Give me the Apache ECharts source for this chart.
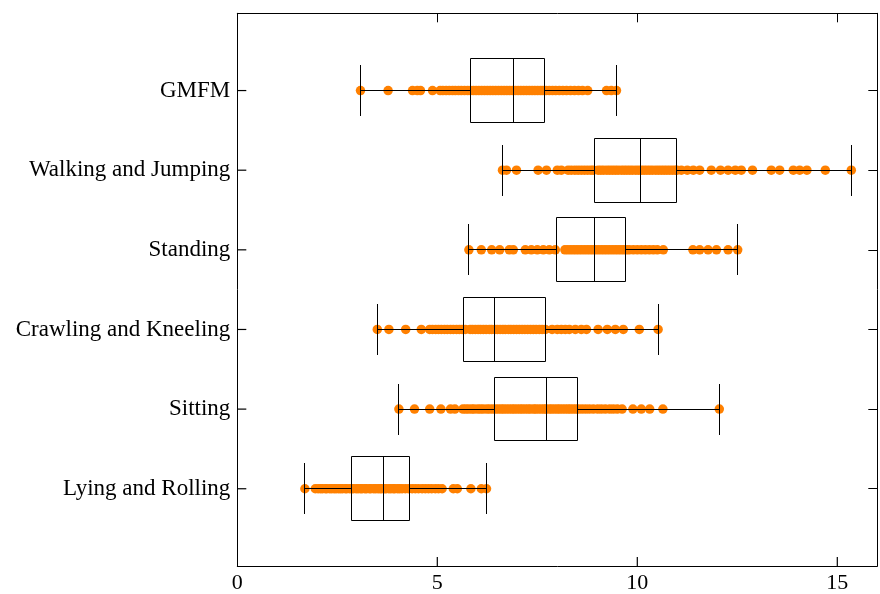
<!DOCTYPE html>
<html>
<head>
<meta charset="utf-8">
<script src="https://cdn.jsdelivr.net/npm/echarts@6/dist/echarts.min.js"></script>
<style>html,body{margin:0;padding:0;background:#fff;}#c{width:880px;height:594px;}</style>
</head>
<body>
<div id="c"></div>
<script>
// Categories (bottom to top, y = 1..6)
const categories = ["Lying and Rolling", "Sitting", "Crawling and Kneeling", "Standing", "Walking and Jumping", "GMFM"];
// Box statistics per category: [lower whisker, Q1, median, Q3, upper whisker]
const boxLow  = [1.69, 4.04, 3.50, 5.79, 6.63, 3.08];
const boxQ1   = [2.85, 6.42, 5.65, 7.97, 8.92, 5.83];
const boxMed  = [3.65, 7.72, 6.44, 8.93, 10.09, 6.91];
const boxQ3   = [4.30, 8.50, 7.70, 9.70, 10.99, 7.69];
const boxHigh = [6.23, 12.05, 10.52, 12.51, 15.35, 9.48];
// Individual observations per category
const lyingPts = [1.69, 1.95, 2.02, 2.08, 2.13, 2.2, 2.24, 2.31, 2.36, 2.42, 2.47, 2.53, 2.58, 2.63, 2.7, 2.74, 2.81, 2.86, 2.9, 2.97, 3.02, 3.08, 3.12, 3.19, 3.23, 3.3, 3.34, 3.41, 3.46, 3.52, 3.57, 3.61, 3.68, 3.72, 3.79, 3.84, 3.9, 3.94, 4.01, 4.06, 4.12, 4.2, 4.28, 4.37, 4.45, 4.53, 4.62, 4.7, 4.78, 4.86, 4.95, 5.03, 5.12, 5.4, 5.5, 5.84, 6.1, 6.23];
const sittingPts = [4.04, 4.43, 4.81, 5.09, 5.33, 5.44, 5.64, 5.71, 5.78, 5.86, 5.92, 6.01, 6.08, 6.15, 6.24, 6.31, 6.39, 6.46, 6.53, 6.6, 6.66, 6.73, 6.8, 6.87, 6.93, 7.0, 7.07, 7.13, 7.2, 7.27, 7.33, 7.41, 7.46, 7.53, 7.6, 7.67, 7.72, 7.8, 7.86, 7.93, 8.0, 8.06, 8.13, 8.2, 8.27, 8.33, 8.4, 8.47, 8.53, 8.62, 8.71, 8.8, 8.9, 9.01, 9.1, 9.2, 9.31, 9.4, 9.5, 9.62, 9.89, 10.1, 10.31, 10.64, 12.05];
const crawlingPts = [3.5, 3.79, 4.21, 4.6, 4.81, 4.88, 4.96, 5.03, 5.1, 5.18, 5.25, 5.33, 5.4, 5.48, 5.55, 5.62, 5.7, 5.82, 5.88, 5.95, 6.02, 6.08, 6.15, 6.22, 6.3, 6.36, 6.44, 6.5, 6.57, 6.64, 6.7, 6.78, 6.84, 6.91, 6.98, 7.05, 7.12, 7.19, 7.26, 7.33, 7.4, 7.47, 7.55, 7.62, 7.7, 7.87, 8.0, 8.1, 8.2, 8.3, 8.45, 8.6, 8.73, 9.02, 9.25, 9.45, 9.65, 10.05, 10.52];
const standingPts = [5.79, 6.1, 6.36, 6.56, 6.8, 6.9, 7.2, 7.35, 7.5, 7.65, 7.8, 7.95, 8.19, 8.26, 8.33, 8.4, 8.47, 8.54, 8.61, 8.68, 8.75, 8.82, 8.89, 8.96, 9.03, 9.1, 9.17, 9.24, 9.31, 9.38, 9.45, 9.52, 9.59, 9.66, 9.73, 9.8, 9.9, 10.0, 10.1, 10.2, 10.3, 10.4, 10.5, 10.65, 11.39, 11.56, 11.77, 11.98, 12.27, 12.51];
const walkingPts = [6.63, 6.73, 6.98, 7.52, 7.73, 8.0, 8.1, 8.27, 8.35, 8.44, 8.52, 8.6, 8.68, 8.76, 8.84, 8.9, 9.02, 9.09, 9.16, 9.24, 9.31, 9.38, 9.45, 9.52, 9.6, 9.67, 9.74, 9.81, 9.88, 9.96, 10.03, 10.1, 10.17, 10.24, 10.31, 10.38, 10.46, 10.53, 10.6, 10.67, 10.74, 10.81, 10.88, 10.95, 10.99, 11.1, 11.25, 11.4, 11.56, 11.85, 12.08, 12.27, 12.45, 12.6, 12.88, 13.35, 13.56, 13.9, 14.06, 14.24, 14.7, 15.35];
const gmfmPts = [3.08, 3.77, 4.38, 4.5, 4.58, 4.88, 5.07, 5.14, 5.22, 5.3, 5.38, 5.45, 5.53, 5.6, 5.68, 5.76, 5.83, 5.9, 5.97, 6.04, 6.11, 6.18, 6.25, 6.32, 6.39, 6.46, 6.53, 6.6, 6.67, 6.74, 6.81, 6.88, 6.95, 7.02, 7.09, 7.16, 7.23, 7.3, 7.37, 7.44, 7.51, 7.58, 7.64, 7.72, 7.8, 7.88, 7.96, 8.05, 8.14, 8.23, 8.33, 8.43, 8.53, 8.63, 8.76, 9.23, 9.35, 9.48];
const pointSets = [lyingPts, sittingPts, crawlingPts, standingPts, walkingPts, gmfmPts];
// Tick values
const xTickLabels = [0, 5, 10, 15];
const xTickMarks = [5, 10, 15];
const yTickValues = [1, 2, 3, 4, 5, 6];

const X_MIN = 0, X_MAX = 16, Y_MIN = 0.03, Y_MAX = 6.97, TICK_LEN = 9;

const scatterData = [];
pointSets.forEach((pts, i) => pts.forEach(v => scatterData.push([v, i + 1])));
const boxData = categories.map((c, i) => [i + 1, boxLow[i], boxQ1[i], boxMed[i], boxQ3[i], boxHigh[i]]);

const FONT = '"Liberation Serif", "DejaVu Serif", serif';
const axisLineStyle = { color: '#000', width: 1 };
const tickStyle = { color: '#000', width: 1 };

function crisp(v) { return Math.round(v - 0.5) + 0.5; }

const chart = echarts.init(document.getElementById('c'), null, { renderer: 'canvas' });
chart.setOption({
  animation: false,
  backgroundColor: '#fff',
  grid: { left: 237.3, right: 2.7, top: 13.3, bottom: 26.7, containLabel: false },
  xAxis: [
    {
      type: 'value', position: 'bottom', min: X_MIN, max: X_MAX,
      axisLine: { show: true, onZero: false, lineStyle: axisLineStyle },
      axisTick: { show: false },
      axisLabel: { show: true, customValues: xTickLabels, margin: 6, color: '#000', fontFamily: FONT, fontSize: 22 },
      splitLine: { show: false }
    },
    {
      type: 'value', position: 'top', min: X_MIN, max: X_MAX,
      axisLine: { show: true, onZero: false, lineStyle: axisLineStyle },
      axisTick: { show: true, inside: true, length: TICK_LEN, customValues: xTickMarks, lineStyle: tickStyle },
      axisLabel: { show: false },
      splitLine: { show: false }
    }
  ],
  yAxis: [
    {
      type: 'value', position: 'left', min: Y_MIN, max: Y_MAX,
      axisLine: { show: true, onZero: false, lineStyle: axisLineStyle },
      axisTick: { show: false },
      axisLabel: {
        show: true, customValues: yTickValues, margin: 7, color: '#000', fontFamily: FONT, fontSize: 23,
        formatter: v => categories[Math.round(v) - 1] || ''
      },
      splitLine: { show: false }
    },
    {
      type: 'value', position: 'right', min: Y_MIN, max: Y_MAX,
      axisLine: { show: true, onZero: false, lineStyle: axisLineStyle },
      axisTick: { show: true, inside: true, length: TICK_LEN, customValues: yTickValues, lineStyle: tickStyle },
      axisLabel: { show: false },
      splitLine: { show: false }
    }
  ],
  series: [
    {
      type: 'scatter', xAxisIndex: 0, yAxisIndex: 0,
      data: scatterData, symbol: 'circle', symbolSize: 9.5,
      itemStyle: { color: 'rgb(255,128,0)', opacity: 1 },
      z: 2
    },
    {
      type: 'custom', xAxisIndex: 0, yAxisIndex: 0,
      data: boxData,
      z: 3,
      renderItem: function (params, api) {
        const y = api.value(0);
        const lo = api.coord([api.value(1), y]);
        const q1 = api.coord([api.value(2), y]);
        const md = api.coord([api.value(3), y]);
        const q3 = api.coord([api.value(4), y]);
        const hi = api.coord([api.value(5), y]);
        const halfBox = api.size([0, 0.4])[1];
        const halfCap = api.size([0, 0.32])[1];
        const cy = crisp(lo[1]);
        const xl = crisp(lo[0]), x1 = crisp(q1[0]), xm = crisp(md[0]), x3 = crisp(q3[0]), xh = crisp(hi[0]);
        const bt = crisp(lo[1] - halfBox), bb = crisp(lo[1] + halfBox);
        const st = { stroke: '#000', lineWidth: 1, fill: null };
        return {
          type: 'group',
          children: [
            { type: 'line', shape: { x1: xl, y1: cy, x2: x1, y2: cy }, style: st },
            { type: 'line', shape: { x1: x3, y1: cy, x2: xh, y2: cy }, style: st },
            { type: 'line', shape: { x1: xl, y1: cy - halfCap, x2: xl, y2: cy + halfCap }, style: st },
            { type: 'line', shape: { x1: xh, y1: cy - halfCap, x2: xh, y2: cy + halfCap }, style: st },
            { type: 'rect', shape: { x: x1, y: bt, width: x3 - x1, height: bb - bt }, style: { stroke: '#000', lineWidth: 1, fill: 'rgba(0,0,0,0)' } },
            { type: 'line', shape: { x1: xm, y1: bt, x2: xm, y2: bb }, style: st }
          ]
        };
      }
    },
    {
      // inward tick marks on the bottom axis, as thin rectangles
      type: 'scatter', xAxisIndex: 0, yAxisIndex: 0, silent: true, clip: false, z: 10,
      data: xTickMarks.map(v => [v, Y_MIN]),
      symbol: 'rect', symbolSize: [1.2, TICK_LEN], symbolOffset: [0, -TICK_LEN / 2],
      itemStyle: { color: '#000', opacity: 1 }
    },
    {
      // inward tick marks on the left axis
      type: 'scatter', xAxisIndex: 0, yAxisIndex: 0, silent: true, clip: false, z: 10,
      data: yTickValues.map(v => [X_MIN, v]),
      symbol: 'rect', symbolSize: [TICK_LEN, 1.2], symbolOffset: [TICK_LEN / 2, 0],
      itemStyle: { color: '#000', opacity: 1 }
    }
  ]
});
</script>
</body>
</html>
